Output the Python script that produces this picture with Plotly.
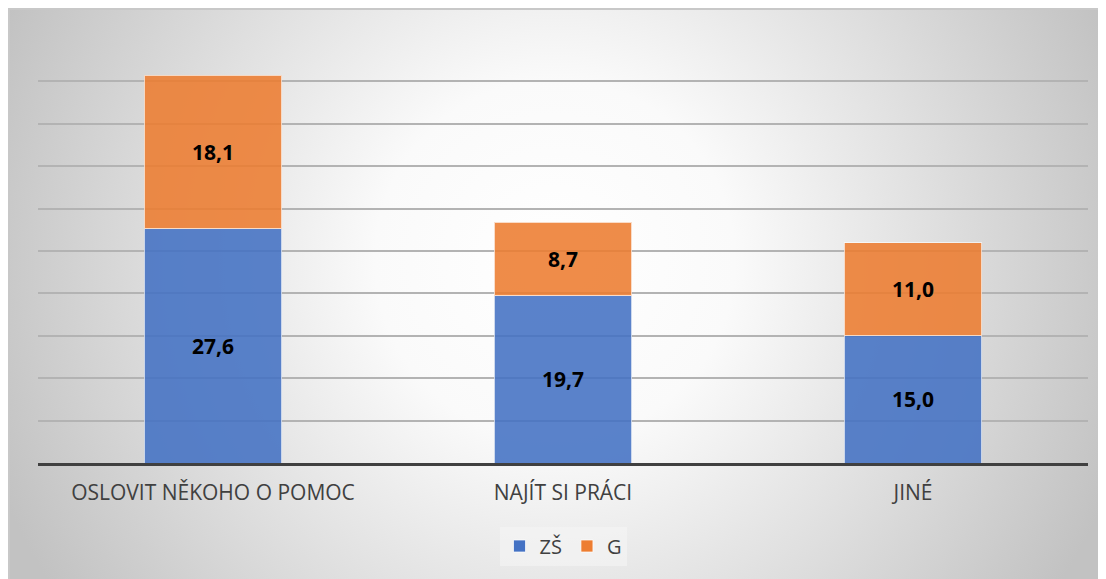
import base64
import plotly.graph_objects as go

categories = ["OSLOVIT NĚKOHO O POMOC", "NAJÍT SI PRÁCI", "JINÉ"]
zs_values = [27.6, 19.7, 15.0]
g_values = [18.1, 8.7, 11.0]
series_names = ["ZŠ", "G"]

W, H = 1098, 571
L, R, T, B = 30, 18, 31, 116
pw, ph = W - L - R, H - T - B

svg = f'''<svg xmlns="http://www.w3.org/2000/svg" width="{W}" height="{H}" viewBox="0 0 {W} {H}" preserveAspectRatio="none">
<defs><radialGradient id="g" gradientUnits="userSpaceOnUse" cx="547" cy="252" r="600">
<stop offset="0" stop-color="#ffffff"/><stop offset="0.3" stop-color="#fafafa"/><stop offset="1" stop-color="#c2c2c2"/></radialGradient></defs>
<rect x="0" y="0" width="{W}" height="{H}" fill="url(#g)"/>
<line x1="0" y1="1" x2="{W}" y2="1" stroke="#c8c8c8" stroke-width="2"/>
<line x1="1" y1="0" x2="1" y2="{H}" stroke="#c8c8c8" stroke-width="2"/></svg>'''
src = "data:image/svg+xml;base64," + base64.b64encode(svg.encode()).decode()

label_font = dict(family="Open Sans", size=21, color="black", weight="bold")
fig = go.Figure()
fig.add_trace(go.Bar(x=categories, y=zs_values, name=series_names[0],
                     marker=dict(color="#4472C4", opacity=0.88, line=dict(color="rgba(255,255,255,0.7)", width=1)),
                     texttemplate="%{y:.1f}", textposition="inside", insidetextanchor="middle",
                     textfont=label_font))
fig.add_trace(go.Bar(x=categories, y=g_values, name=series_names[1],
                     marker=dict(color="#ED7D31", opacity=0.88, line=dict(color="rgba(255,255,255,0.7)", width=1)),
                     texttemplate="%{y:.1f}", textposition="inside", insidetextanchor="middle",
                     textfont=label_font))

fig.update_layout(
    width=W, height=H, barmode="stack", bargap=0.606,
    separators=", ",
    margin=dict(l=L, r=R, t=T, b=B),
    paper_bgcolor="white", plot_bgcolor="rgba(0,0,0,0)",
    font=dict(family="Open Sans", size=20, color="#404040"),
    showlegend=True,
    legend=dict(orientation="h", x=0.5, xanchor="center", y=(455 - 538) / ph, yanchor="middle",
                bgcolor="rgba(245,245,245,0.6)", font=dict(size=20, color="#404040"),
                itemwidth=30, traceorder="normal"),
    images=[dict(source=src, xref="paper", yref="paper", x=-L / pw, y=(ph + T) / ph,
                 sizex=W / pw, sizey=H / ph, sizing="stretch", layer="below",
                 xanchor="left", yanchor="top")],
    xaxis=dict(showline=True, linecolor="#404040", linewidth=3, ticks="", showgrid=False,
               ticklabelstandoff=9, tickfont=dict(size=21, color="#404040")),
    yaxis=dict(range=[0, 50], dtick=5, showticklabels=False, showgrid=True, gridcolor="#b3b3b3",
               gridwidth=1.5, zeroline=False, showline=False),
)
fig.write_html("out.html")
